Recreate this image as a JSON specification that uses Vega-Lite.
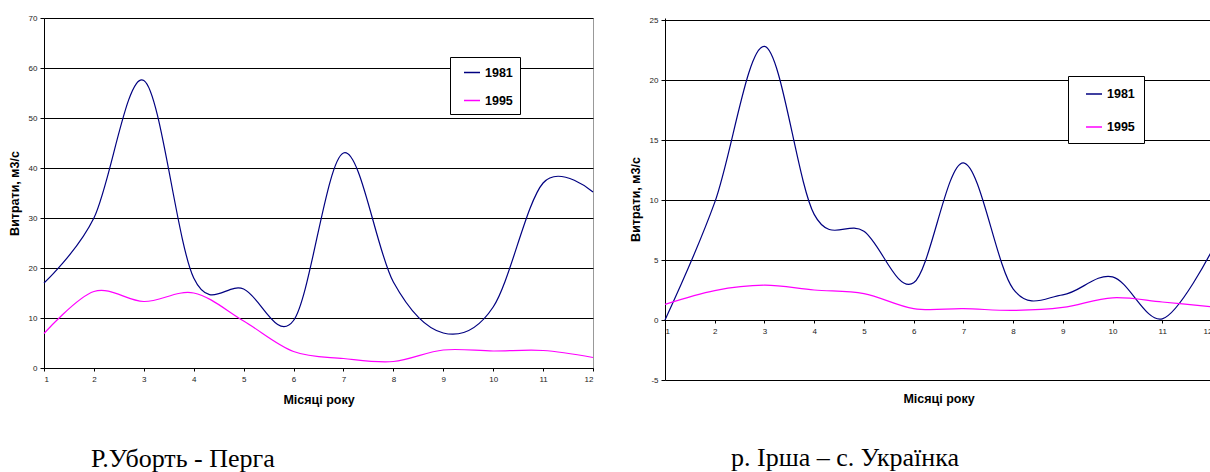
{
  "$schema": "https://vega.github.io/schema/vega-lite/v6.json",
  "background": "white",
  "padding": {"left": 7, "top": 13, "right": 0, "bottom": 0},
  "spacing": 72,
  "bounds": "flush",
  "config": {
    "font": "Liberation Sans",
    "view": {"stroke": null},
    "axis": {
      "labelFont": "Liberation Sans", "labelFontSize": 8, "labelColor": "#222",
      "titleFont": "Liberation Sans", "titleFontSize": 12.5, "titleFontWeight": "bold", "titleColor": "#000",
      "domainColor": "#000", "tickColor": "#000", "tickSize": 4, "gridColor": "#000", "gridOpacity": 1, "gridWidth": 1
    }
  },
  "datasets": {
    "uborth": [
      {"month": 1, "year": "1981", "q": 17.0}, {"month": 2, "year": "1981", "q": 30.0}, {"month": 3, "year": "1981", "q": 57.5},
      {"month": 4, "year": "1981", "q": 18.0}, {"month": 5, "year": "1981", "q": 15.8}, {"month": 6, "year": "1981", "q": 9.5},
      {"month": 7, "year": "1981", "q": 43.0}, {"month": 8, "year": "1981", "q": 17.2}, {"month": 9, "year": "1981", "q": 7.0},
      {"month": 10, "year": "1981", "q": 12.2}, {"month": 11, "year": "1981", "q": 37.0}, {"month": 12, "year": "1981", "q": 35.2},
      {"month": 1, "year": "1995", "q": 6.9}, {"month": 2, "year": "1995", "q": 15.3}, {"month": 3, "year": "1995", "q": 13.3},
      {"month": 4, "year": "1995", "q": 15.0}, {"month": 5, "year": "1995", "q": 9.4}, {"month": 6, "year": "1995", "q": 3.3},
      {"month": 7, "year": "1995", "q": 1.9}, {"month": 8, "year": "1995", "q": 1.3}, {"month": 9, "year": "1995", "q": 3.6},
      {"month": 10, "year": "1995", "q": 3.4}, {"month": 11, "year": "1995", "q": 3.5}, {"month": 12, "year": "1995", "q": 2.1}
    ],
    "irsha": [
      {"month": 1, "year": "1981", "q": 0.0}, {"month": 2, "year": "1981", "q": 9.8}, {"month": 3, "year": "1981", "q": 22.8},
      {"month": 4, "year": "1981", "q": 8.8}, {"month": 5, "year": "1981", "q": 7.4}, {"month": 6, "year": "1981", "q": 3.1},
      {"month": 7, "year": "1981", "q": 13.1}, {"month": 8, "year": "1981", "q": 2.6}, {"month": 9, "year": "1981", "q": 2.1},
      {"month": 10, "year": "1981", "q": 3.6}, {"month": 11, "year": "1981", "q": 0.1}, {"month": 12, "year": "1981", "q": 5.8},
      {"month": 1, "year": "1995", "q": 1.3}, {"month": 2, "year": "1995", "q": 2.45}, {"month": 3, "year": "1995", "q": 2.9},
      {"month": 4, "year": "1995", "q": 2.5}, {"month": 5, "year": "1995", "q": 2.2}, {"month": 6, "year": "1995", "q": 0.95},
      {"month": 7, "year": "1995", "q": 0.95}, {"month": 8, "year": "1995", "q": 0.8}, {"month": 9, "year": "1995", "q": 1.05},
      {"month": 10, "year": "1995", "q": 1.85}, {"month": 11, "year": "1995", "q": 1.5}, {"month": 12, "year": "1995", "q": 1.1}
    ]
  },
  "hconcat": [
    {
      "width": 549,
      "height": 350,
      "data": {"name": "uborth"},
      "view": {"stroke": "#999"},
      "title": {"text": "Р.Уборть - Перга", "orient": "bottom", "anchor": "start", "frame": "group", "font": "Liberation Serif", "fontSize": 26, "fontWeight": "normal", "color": "#000", "dx": 47, "offset": 40},
      "mark": {"type": "line", "interpolate": "cardinal", "tension": 0, "strokeWidth": 1.2},
      "encoding": {
        "x": {"field": "month", "type": "quantitative", "scale": {"domain": [1, 12], "nice": false, "zero": false},
          "axis": {"values": [1,2,3,4,5,6,7,8,9,10,11,12], "title": "Місяці року", "grid": false, "titleY": 31, "titleBaseline": "middle", "tickSize": 3, "labelPadding": 4}},
        "y": {"field": "q", "type": "quantitative", "scale": {"domain": [0, 70], "nice": false},
          "axis": {"values": [0,10,20,30,40,50,60,70], "title": "Витрати, м3/с", "titleX": -30, "titleBaseline": "middle", "labelPadding": 3}},
        "color": {"field": "year", "type": "nominal", "scale": {"domain": ["1981", "1995"], "range": ["#000080", "#ff00ff"]},
          "legend": {"orient": "none", "legendX": 406, "legendY": 39, "title": null, "direction": "vertical",
            "strokeColor": "#000", "fillColor": "#fff", "padding": 6.5, "rowPadding": 12,
            "symbolType": "stroke", "symbolSize": 256, "symbolStrokeWidth": 1.5, "symbolOffset": 6.5,
            "labelFont": "Liberation Sans", "labelFontSize": 12.5, "labelFontWeight": "bold", "labelColor": "#000", "labelOffset": 4}}
      }
    },
    {
      "width": 547,
      "height": 362,
      "data": {"name": "irsha"},
      "title": {"text": "р. Ірша – с. Українка", "orient": "bottom", "anchor": "start", "frame": "group", "font": "Liberation Serif", "fontSize": 26, "fontWeight": "normal", "color": "#000", "dx": 66, "offset": 40},
      "mark": {"type": "line", "interpolate": "cardinal", "tension": 0, "strokeWidth": 1.2},
      "encoding": {
        "x": {"field": "month", "type": "quantitative", "scale": {"domain": [1, 12], "nice": false, "zero": false},
          "axis": {"values": [1,2,3,4,5,6,7,8,9,10,11,12], "title": "Місяці року", "grid": false, "offset": -60, "titleY": 78, "titleBaseline": "middle", "tickSize": 3, "labelPadding": 4}},
        "y": {"field": "q", "type": "quantitative", "scale": {"domain": [-5, 25.1667], "nice": false, "zero": false},
          "axis": {"values": [-5,0,5,10,15,20,25], "labelExpr": "'' + datum.value", "title": "Витрати, м3/с", "titleX": -30, "titleBaseline": "middle", "labelPadding": 3}},
        "color": {"field": "year", "type": "nominal", "scale": {"domain": ["1981", "1995"], "range": ["#000080", "#ff00ff"]},
          "legend": {"orient": "none", "legendX": 403, "legendY": 58, "title": null, "direction": "vertical",
            "strokeColor": "#000", "fillColor": "#fff", "padding": 9, "rowPadding": 17,
            "symbolType": "stroke", "symbolSize": 256, "symbolStrokeWidth": 1.5, "symbolOffset": 8,
            "labelFont": "Liberation Sans", "labelFontSize": 12.5, "labelFontWeight": "bold", "labelColor": "#000", "labelOffset": 4}}
      }
    }
  ],
  "resolve": {"scale": {"color": "independent"}, "legend": {"color": "independent"}}
}
